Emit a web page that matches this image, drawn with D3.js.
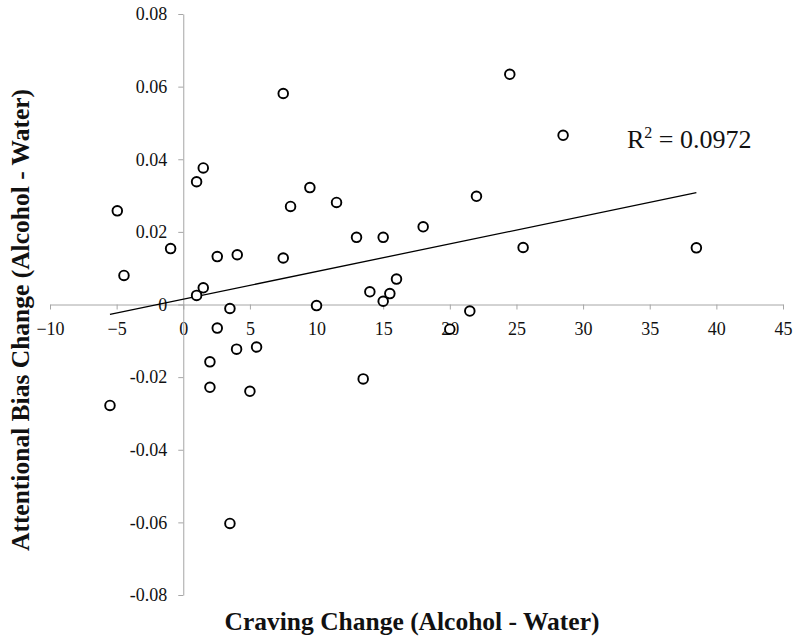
<!DOCTYPE html>
<html>
<head>
<meta charset="utf-8">
<script src="https://cdn.jsdelivr.net/npm/d3@7/dist/d3.min.js"></script>
<style>
  html, body { margin: 0; padding: 0; background: #fff; }
  svg { display: block; }
</style>
</head>
<body>
<svg id="chart" width="800" height="641"></svg>
<script>
// ---- data ----
const cravingChange = [-5.5, -4.95, -4.45, -0.95, 1.0, 1.5, 2.55, 4.05, 7.5, 8.05, 9.5, 11.5,
  1.0, 1.5, 3.5, 10.0, 2.55, 4.0, 5.5, 2.0, 2.0, 5.0, 13.5, 3.5, 13.0, 15.0, 18.0, 22.0,
  24.5, 28.5, 25.5, 38.5, 14.0, 15.0, 15.5, 16.0, 21.5, 20.0, 7.5];
const biasChange = [-0.0278, 0.0258, 0.0080, 0.0154, 0.0338, 0.0376, 0.0132, 0.0137, 0.0128, 0.0270, 0.0322, 0.0281,
  0.0025, 0.0046, -0.0011, -0.0003, -0.0065, -0.0123, -0.0117, -0.0158, -0.0228, -0.0239, -0.0205, -0.0603,
  0.0185, 0.0185, 0.0214, 0.0298, 0.0634, 0.0466, 0.0157, 0.0156, 0.0035, 0.0009, 0.0030, 0.0070, -0.0018, -0.0068, 0.0581];
const xTicks = [-10, -5, 0, 5, 10, 15, 20, 25, 30, 35, 40, 45];
const yTicks = [-0.08, -0.06, -0.04, -0.02, 0, 0.02, 0.04, 0.06, 0.08];
const xTitle = "Craving Change (Alcohol - Water)";
const yTitle = "Attentional Bias Change (Alcohol - Water)";
const r2Label = "0.0972";

// ---- layout ----
const svg = d3.select("#chart");
const x = d3.scaleLinear().domain([-10, 45]).range([50, 783]);
const y = d3.scaleLinear().domain([-0.08, 0.08]).range([595, 14]);
const axisColor = "#a6a6a6";
const tickFont = "'Liberation Serif', 'DejaVu Serif', serif";

// x axis at y=0
const xAxis = svg.append("g")
  .attr("transform", `translate(0,${y(0)})`)
  .call(d3.axisBottom(x).tickValues(xTicks).tickSize(5).tickSizeOuter(0).tickFormat(d3.format("d")));
xAxis.select(".domain").attr("stroke", axisColor);
xAxis.selectAll(".tick line").attr("stroke", axisColor);
xAxis.selectAll(".tick text")
  .attr("font-family", tickFont).attr("font-size", 18).attr("fill", "#111")
  .attr("dy", null).attr("y", 30);

// y axis at x=0
const yAxis = svg.append("g")
  .attr("transform", `translate(${x(0)},0)`)
  .call(d3.axisLeft(y).tickValues(yTicks).tickSize(5).tickSizeOuter(0)
    .tickFormat(d => d === 0 ? "0" : d3.format(".2f")(d).replace("−", "-")));
yAxis.select(".domain").attr("stroke", axisColor);
yAxis.selectAll(".tick line").attr("stroke", axisColor);
yAxis.selectAll(".tick text")
  .attr("font-family", tickFont).attr("font-size", 18).attr("fill", "#111")
  .attr("x", -16);

// trendline (least squares)
const n = cravingChange.length;
const mx = d3.mean(cravingChange), my = d3.mean(biasChange);
let sxy = 0, sxx = 0;
for (let i = 0; i < n; i++) {
  sxy += (cravingChange[i] - mx) * (biasChange[i] - my);
  sxx += (cravingChange[i] - mx) ** 2;
}
const slope = sxy / sxx, intercept = my - slope * mx;
const [xmin, xmax] = d3.extent(cravingChange);
svg.append("line")
  .attr("x1", x(xmin)).attr("y1", y(intercept + slope * xmin))
  .attr("x2", x(xmax)).attr("y2", y(intercept + slope * xmax))
  .attr("stroke", "#000").attr("stroke-width", 1.3);

// points
svg.append("g").selectAll("circle")
  .data(cravingChange.map((c, i) => [c, biasChange[i]]))
  .join("circle")
  .attr("cx", d => x(d[0])).attr("cy", d => y(d[1]))
  .attr("r", 4.8)
  .attr("fill", "#fff").attr("stroke", "#000").attr("stroke-width", 1.9);

// R² label
const r2 = svg.append("text")
  .attr("x", 627).attr("y", 148)
  .attr("font-family", tickFont).attr("font-size", 26).attr("fill", "#111");
r2.append("tspan").text("R");
r2.append("tspan").attr("font-size", 16).attr("dy", -10).text("2");
r2.append("tspan").attr("dy", 10).text(" = " + r2Label);

// axis titles
svg.append("text")
  .attr("x", 412).attr("y", 630)
  .attr("text-anchor", "middle")
  .attr("font-family", tickFont).attr("font-weight", "bold").attr("font-size", 25.5).attr("fill", "#111")
  .text(xTitle);
svg.append("text")
  .attr("transform", `translate(29,320) rotate(-90)`)
  .attr("text-anchor", "middle")
  .attr("font-family", tickFont).attr("font-weight", "bold").attr("font-size", 25.5).attr("fill", "#111")
  .text(yTitle);
</script>
</body>
</html>
